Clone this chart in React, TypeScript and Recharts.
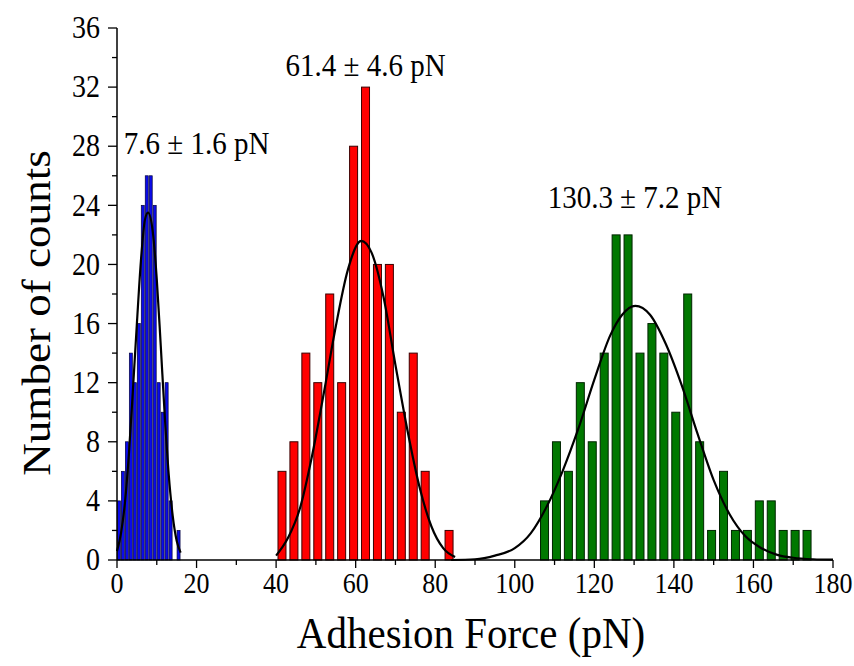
import React from "react"
import { ComposedChart, Bar, Line, XAxis, YAxis, ReferenceDot, Label } from "recharts"

// histogram counts
const blueCounts = [4, 6, 8, 14, 12, 16, 24, 26, 26, 24, 12, 10, 12, 4, 0, 2]
const redCounts = [6, 8, 14, 12, 18, 12, 28, 32, 20, 20, 10, 14, 6, 0, 2]
const greenCounts = [4, 8, 6, 12, 8, 14, 22, 22, 14, 16, 14, 10, 18, 8, 2, 6, 2, 2, 4, 4, 2, 2, 2]

// bin edges (pN)
const blueBinStart = 0
const blueBinWidth = 1
const redBinStart = 40
const redBinWidth = 3
const greenBinStart = 106
const greenBinWidth = 3

// gaussian fit curves, sampled by eye
const blueFitX = [0, 1, 2, 3, 4, 5, 6, 7, 7.8, 9, 10, 11, 12, 13, 14, 15, 16]
const blueFitY = [0.6, 1.8, 3.9, 7.2, 11.5, 16, 20.2, 23, 23.5, 22.2, 19, 14.5, 9.8, 5.8, 3, 1.3, 0.5]
const redFitX = [40, 43, 46, 49, 52, 55, 58, 61.4, 64, 67, 70, 73, 76, 79, 82, 85]
const redFitY = [0.3, 1.5, 3.5, 7, 11.3, 15.8, 19.6, 21.6, 20.8, 17.8, 13.2, 8.8, 5, 2.3, 0.8, 0.2]
const greenFitX = [84, 90, 95, 100, 104, 108, 112, 116, 120, 124, 127, 130.3, 134, 138, 142, 146, 150, 154, 158, 162, 166, 170, 175, 180]
const greenFitY = [0, 0.05, 0.3, 0.8, 1.8, 3.6, 6, 8.9, 12.2, 15.2, 16.6, 17.2, 16.6, 14.6, 11.8, 8.5, 5.4, 3.1, 1.6, 0.8, 0.35, 0.15, 0.05, 0.02]

const fitLabels = ["7.6 ± 1.6 pN", "61.4 ± 4.6 pN", "130.3 ± 7.2 pN"]
const fitLabelX = [20, 62.5, 130.2]
const fitLabelY = [28.2, 33.5, 24.6]

const xTicks = [0, 10, 20, 30, 40, 50, 60, 70, 80, 90, 100, 110, 120, 130, 140, 150, 160, 170, 180]
const yTicks = [0, 2, 4, 6, 8, 10, 12, 14, 16, 18, 20, 22, 24, 26, 28, 30, 32, 34, 36]

const FONT = "'Liberation Serif', 'Times New Roman', serif"
const STRETCH = 1.1 // the figure is a bit taller than wide
const COLORS: Record<string, { fill: string; stroke: string; gap: number }> = {
  blue: { fill: "#0b0bea", stroke: "#00003a", gap: 0 },
  red: { fill: "#ff0000", stroke: "#3a0000", gap: 1 },
  green: { fill: "#007800", stroke: "#002400", gap: 1 },
}

type BinRow = { x: number; count: number; w: number; group: string }

const toBins = (counts: number[], start: number, w: number, group: string): BinRow[] =>
  counts.map((count, i) => ({ x: start + w * i + w / 2, count, w, group }))

const bins: BinRow[] = [
  ...toBins(blueCounts, blueBinStart, blueBinWidth, "blue"),
  ...toBins(redCounts, redBinStart, redBinWidth, "red"),
  ...toBins(greenCounts, greenBinStart, greenBinWidth, "green"),
]

const toCurve = (xs: number[], ys: number[]) => xs.map((x, i) => ({ x, y: ys[i] }))
const blueFit = toCurve(blueFitX, blueFitY)
const redFit = toCurve(redFitX, redFitY)
const greenFit = toCurve(greenFitX, greenFitY)

// text drawn slightly taller than wide, like the source image
const Txt = ({ x, y, size, anchor = "middle", rotate = false, dy = "0", children }: any) => (
  <text
    x={0}
    y={0}
    dy={dy}
    transform={
      rotate
        ? `translate(${x} ${y}) rotate(-90) scale(${STRETCH} 1)`
        : `translate(${x} ${y}) scale(1 ${STRETCH})`
    }
    textAnchor={anchor}
    fontSize={size}
    fontFamily={FONT}
    fill="#000"
  >
    {children}
  </text>
)

// band of the numeric axis equals the narrowest bin, widen the others from it
const HistBar = (props: any) => {
  const { x, y, width, height, payload } = props
  if (!payload || !height || height <= 0) return null
  const unit = width / blueBinWidth
  const bw = unit * payload.w
  const cx = x + width / 2
  const c = COLORS[payload.group]
  return (
    <rect
      x={cx - bw / 2 + c.gap / 2}
      y={y}
      width={Math.max(bw - c.gap, 0.5)}
      height={height}
      fill={c.fill}
      stroke={c.stroke}
      strokeWidth={c.gap ? 1 : 0.7}
    />
  )
}

const XTick = (props: any) => {
  const { x, y, payload } = props
  const major = payload.value % 20 === 0
  return (
    <g>
      <line x1={x} y1={y} x2={x} y2={y + (major ? 8 : 5)} stroke="#000" strokeWidth={1.3} />
      {major && (
        <Txt x={x} y={y + 11} dy="0.78em" size={26}>
          {payload.value}
        </Txt>
      )}
    </g>
  )
}

const YTick = (props: any) => {
  const { x, y, payload } = props
  const major = payload.value % 4 === 0
  return (
    <g>
      <line x1={x} y1={y} x2={x - (major ? 9 : 5)} y2={y} stroke="#000" strokeWidth={1.3} />
      {major && (
        <Txt x={x - 17} y={y} dy="0.33em" size={28} anchor="end">
          {payload.value}
        </Txt>
      )}
    </g>
  )
}

export default function App() {
  return (
    <div style={{ position: "absolute", left: 0, top: 0, background: "#fff" }}>
      <ComposedChart width={854} height={666} data={bins} margin={{ top: 28, right: 21, bottom: 0, left: 0 }}>
        <XAxis
          xAxisId="bins"
          dataKey="x"
          type="number"
          domain={[0, 180]}
          ticks={xTicks}
          interval={0}
          tickSize={0}
          tickMargin={0}
          tickLine={false}
          tick={<XTick />}
          axisLine={{ stroke: "#000", strokeWidth: 1.5 }}
          height={106}
        >
          <Label
            content={({ viewBox }: any) => (
              <Txt x={viewBox.x + viewBox.width / 2 - 4} y={viewBox.y + 88} size={41}>
                Adhesion Force (pN)
              </Txt>
            )}
          />
        </XAxis>
        <XAxis xAxisId="fit" dataKey="x" type="number" domain={[0, 180]} hide />
        <YAxis
          dataKey="count"
          type="number"
          domain={[0, 36]}
          ticks={yTicks}
          interval={0}
          tickSize={0}
          tickMargin={0}
          tickLine={false}
          tick={<YTick />}
          axisLine={{ stroke: "#000", strokeWidth: 1.5 }}
          width={117}
        >
          <Label
            content={({ viewBox }: any) => (
              <Txt x={viewBox.x + 36} y={313} dy="0.35em" size={41} rotate>
                Number of counts
              </Txt>
            )}
          />
        </YAxis>
        <Bar
          xAxisId="bins"
          dataKey="count"
          barCategoryGap={0}
          shape={<HistBar />}
          isAnimationActive={false}
        />
        <Line xAxisId="fit" data={blueFit} dataKey="y" type="monotone" stroke="#000" strokeWidth={2.2} dot={false} isAnimationActive={false} />
        <Line xAxisId="fit" data={redFit} dataKey="y" type="monotone" stroke="#000" strokeWidth={2.2} dot={false} isAnimationActive={false} />
        <Line xAxisId="fit" data={greenFit} dataKey="y" type="monotone" stroke="#000" strokeWidth={2.2} dot={false} isAnimationActive={false} />
        {fitLabels.map((t, i) => (
          <ReferenceDot
            key={t}
            xAxisId="bins"
            x={fitLabelX[i]}
            y={fitLabelY[i]}
            r={0}
            fill="none"
            stroke="none"
            label={(p: any) => {
              const vb = p.viewBox
              return (
                <Txt x={vb.x + vb.width / 2} y={vb.y + vb.height / 2} dy="0.35em" size={29}>
                  {t}
                </Txt>
              )
            }}
          />
        ))}
      </ComposedChart>
    </div>
  )
}
